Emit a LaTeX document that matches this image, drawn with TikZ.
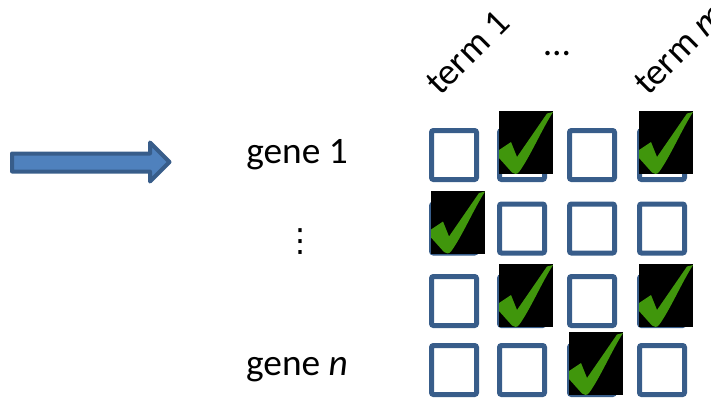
\documentclass[tikz,border=0pt]{standalone}
\usepackage{fontspec}
\setmainfont{Carlito}
\newfontfamily\symfont{DejaVu Sans}
\usepackage{xcolor}
\usepackage{tikz}
\usetikzlibrary{calc}
\definecolor{boxblue}{RGB}{56,93,138}
\definecolor{arrowfill}{RGB}{79,129,189}
\definecolor{tickgreen}{RGB}{64,150,12}
\tikzset{
  cbox/.style={draw=boxblue,line width=3.75pt,rounded corners=1.5pt,
    minimum width=33.75pt,minimum height=36.75pt,inner sep=0pt},
  lab/.style={font=\fontsize{28}{34}\selectfont,inner sep=0pt},
  bigarrow/.style={fill=arrowfill,draw=boxblue,line width=3pt,line join=round},
  tick/.pic={
    \fill[black] (0,0) rectangle (54,63);
    \fill[tickgreen] (0,39) -- (12,31) -- (18,46) -- (48,2.5) -- (54,1)
      .. controls (42,20) and (31,46) .. (20,61)
      .. controls (18,63.5) and (15,63.5) .. (13,61.5) -- (0,47) -- cycle;
  },
}

\begin{document}
\begin{tikzpicture}[x=0.75pt,y=-0.75pt]
  \useasboundingbox (0,0) rectangle (711,404);
  % arrow on the left
  \draw[bigarrow] (12,153.5) -- (150,153.5) -- (150,142.5) -- (169.5,162)
    -- (150,181.5) -- (150,171.5) -- (12,171.5) -- cycle;
  % gene x term grid
  \foreach \r/\y in {1/155,2/228.5,3/301,4/370}{%
    \foreach \c/\x in {1/454,2/522,3/592,4/662}{%
      \node[cbox] (b\r\c) at (\x,\y) {};}}
  % ticked cells
  \foreach \r/\c/\d in {1/2/17,1/4/17,2/1/11,3/2/10,3/4/10,4/3/11}{%
    \pic at ($(b\r\c.north west)+(2,-\d)$) {tick};}
  % row labels
  \node[lab,anchor=base] (g1) at (297,163) {gene 1};
  \node[lab,font=\fontsize{24}{28}\selectfont] (vd) at (300,242) {\symfont ⋮};
  \node[lab,anchor=base] (gn) at (297,375) {gene \textit{n}};
  % column labels
  \node[lab,rotate=45,anchor=base west] (t1) at (440,97) {term 1};
  \node[lab,anchor=base] (hd) at (557,55) {…};
  \node[lab,rotate=45,anchor=base west] (tm) at (648,97) {term \textit{m}};
\end{tikzpicture}
\end{document}
